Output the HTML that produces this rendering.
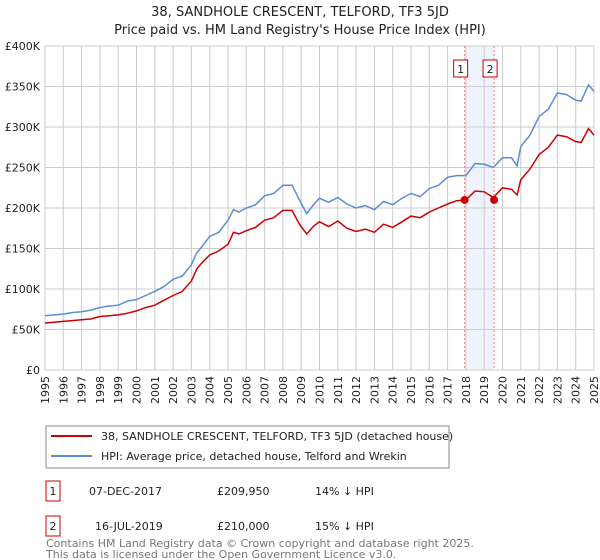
<!DOCTYPE html>
<html><head><meta charset="utf-8"><style>
body{margin:0;background:#fff;font-family:"DejaVu Sans","Liberation Sans",sans-serif;}
#wrap{position:relative;width:600px;height:560px;}
</style></head><body><div id="wrap">
<svg id="svg" width="600" height="560" xmlns="http://www.w3.org/2000/svg" style="position:absolute;left:0;top:0;font-family:'DejaVu Sans','Liberation Sans',sans-serif">
<text x="300" y="16" text-anchor="middle" font-size="13" fill="#222">38, SANDHOLE CRESCENT, TELFORD, TF3 5JD</text>
<text x="300" y="34" text-anchor="middle" font-size="13" fill="#222">Price paid vs. HM Land Registry's House Price Index (HPI)</text>
<g id="grid"></g><g id="marks"></g><g id="axes"></g>
<g>
<rect x="46" y="426" width="403" height="42" fill="#fff" stroke="#888"/>
<line x1="51" y1="436" x2="92" y2="436" stroke="#cc0000" stroke-width="2"/>
<text x="101" y="440" font-size="11" fill="#222">38, SANDHOLE CRESCENT, TELFORD, TF3 5JD (detached house)</text>
<line x1="51" y1="456" x2="92" y2="456" stroke="#5b8dd6" stroke-width="2"/>
<text x="101" y="460" font-size="11" fill="#222">HPI: Average price, detached house, Telford and Wrekin</text>
</g>
<g font-size="11" fill="#222">
<rect x="46" y="481" width="14" height="20" fill="none" stroke="#cc0000"/><text x="53" y="495" text-anchor="middle">1</text>
<text x="89" y="495">07-DEC-2017</text><text x="217" y="495">£209,950</text><text x="315" y="495">14% ↓ HPI</text>
<rect x="46" y="516" width="14" height="20" fill="none" stroke="#cc0000"/><text x="53" y="530" text-anchor="middle">2</text>
<text x="95" y="530">16-JUL-2019</text><text x="217" y="530">£210,000</text><text x="315" y="530">15% ↓ HPI</text>
</g>
<text x="46" y="547" font-size="11" fill="#777">Contains HM Land Registry data © Crown copyright and database right 2025.</text>
<text x="46" y="558" font-size="11" fill="#777">This data is licensed under the Open Government Licence v3.0.</text>
</svg></div>
<script>
const hpiYears=[1995,1995.5,1996,1996.5,1997,1997.5,1998,1998.5,1999,1999.5,2000,2000.5,2001,2001.5,2002,2002.5,2003,2003.3,2003.6,2004,2004.5,2005,2005.3,2005.6,2006,2006.5,2007,2007.5,2008,2008.5,2008.9,2009.3,2009.7,2010,2010.5,2011,2011.5,2012,2012.5,2013,2013.5,2014,2014.5,2015,2015.5,2016,2016.5,2017,2017.5,2018,2018.5,2019,2019.5,2020,2020.5,2020.8,2021,2021.5,2022,2022.5,2023,2023.5,2024,2024.3,2024.7,2025];
const hpiValues=[67,68,69,71,72,74,77,79,80,85,87,92,97,103,112,116,130,145,153,165,170,185,198,195,200,204,215,218,228,228,210,193,205,212,207,213,205,200,203,198,208,204,212,218,214,224,228,238,240,240,255,254,250,262,262,252,276,290,313,322,342,340,333,332,352,344];
const ppValues=[58,59,60,61,62,63,66,67,68,70,73,77,80,86,92,97,110,125,133,142,147,155,170,168,172,176,185,188,197,197,180,168,178,183,177,184,175,171,174,170,180,176,183,190,188,195,200,205,209,210,221,220,213,225,223,216,235,248,266,275,290,288,282,281,298,290];
const tickYears=[1995,1996,1997,1998,1999,2000,2001,2002,2003,2004,2005,2006,2007,2008,2009,2010,2011,2012,2013,2014,2015,2016,2017,2018,2019,2020,2021,2022,2023,2024,2025];
const yTicks=[0,50,100,150,200,250,300,350,400];
const yTickLabels=["£0","£50K","£100K","£150K","£200K","£250K","£300K","£350K","£400K"];
const saleYears=[2017.93,2019.54];
const saleValues=[209.95,210];
const saleLabels=["1","2"];
const NS="http://www.w3.org/2000/svg";
const X0=45,X1=594,Y0=370,Y1=46;
const x=v=>X0+(v-1995)/(2025-1995)*(X1-X0);
const y=v=>Y0-v/400*(Y0-Y1);
function mk(p,t,a){const e=document.createElementNS(NS,t);for(const k in a)e.setAttribute(k,a[k]);p.appendChild(e);return e;}
const grid=document.getElementById('grid'),marks=document.getElementById('marks'),axes=document.getElementById('axes');
mk(grid,'rect',{x:X0,y:Y1,width:X1-X0,height:Y0-Y1,fill:'#fff'});
const shade=mk(grid,'rect',{x:x(saleYears[0]),y:Y1,width:x(saleYears[1])-x(saleYears[0]),height:Y0-Y1,fill:'#eef3fc'});


tickYears.forEach(t=>{
 const l=mk(grid,'line',{x1:x(t),x2:x(t),y1:Y1,y2:Y0,stroke:'#ccc'});
 
 
 const tx=mk(axes,'text',{x:0,y:0,'text-anchor':'end','font-size':11,fill:'#222',transform:'translate('+(x(t)+4)+','+(Y0+6)+') rotate(-90)'});
 tx.textContent=t;
 
 
});
yTicks.forEach((t,i)=>{
 const l=mk(grid,'line',{x1:X0,x2:X1,y1:y(t),y2:y(t),stroke:'#ccc'});
 
 
 const tx=mk(axes,'text',{x:X0-5,y:y(t)+4,'text-anchor':'end','font-size':11,fill:'#222'});
 tx.textContent=yTickLabels[i];
 
 
});
const pts=v=>hpiYears.map((yr,i)=>x(yr).toFixed(1)+','+y(v[i]).toFixed(1)).join(' ');
const hl=mk(marks,'polyline',{points:pts(hpiValues),fill:'none',stroke:'#5b8dd6','stroke-width':1.5});


const pl=mk(marks,'polyline',{points:pts(ppValues),fill:'none',stroke:'#cc0000','stroke-width':1.5});


saleYears.forEach((s,i)=>{
 const l=mk(marks,'line',{x1:x(s),x2:x(s),y1:Y1,y2:Y0,stroke:'#f08080','stroke-dasharray':'2,2'});
 
 
 const c=mk(marks,'circle',{cx:x(s),cy:y(saleValues[i]),r:4,fill:'#cc0000'});
 
 
 const b=mk(marks,'rect',{x:x(s)-11,y:60,width:14,height:17,fill:'#fff',stroke:'#cc0000'});
 
 
 const t=mk(marks,'text',{x:x(s)-4,y:73,'text-anchor':'middle','font-size':11,fill:'#222'});
 t.textContent=saleLabels[i];
 
 
});
</script></body></html>
